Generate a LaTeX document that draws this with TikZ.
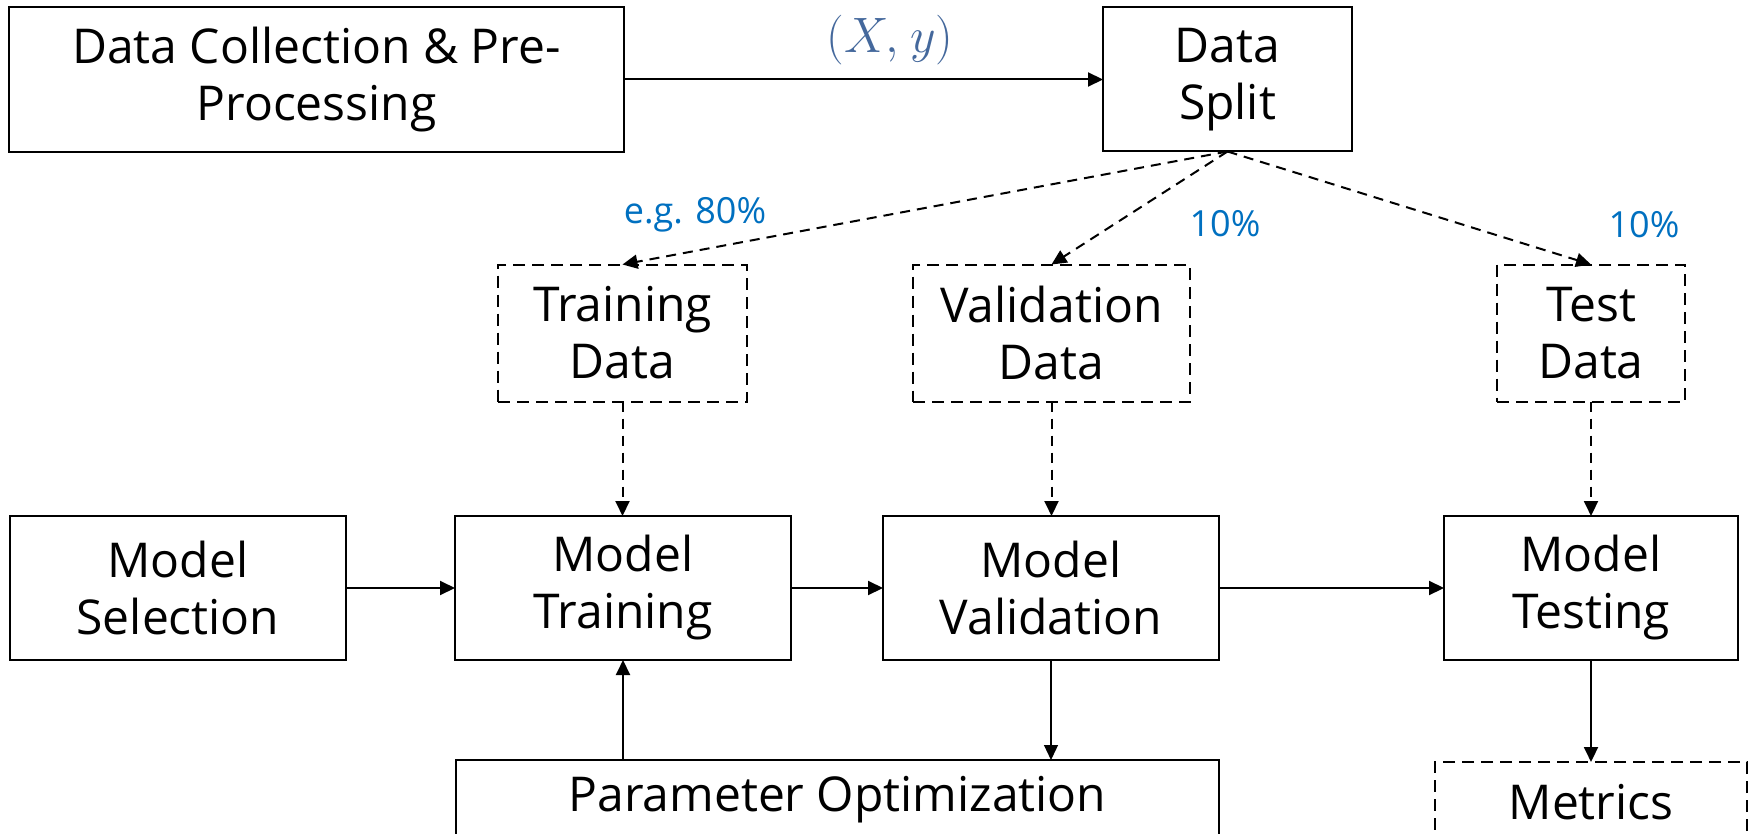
\documentclass[tikz,border=0pt]{standalone}
\usepackage{fontspec}
\setmainfont{Open Sans}
\usetikzlibrary{arrows.meta}
\definecolor{pctblue}{HTML}{0070C0}
\definecolor{mathblue}{HTML}{44689C}
\tikzset{
  box/.style={draw, line width=1pt, inner sep=0pt, outer sep=0pt, align=center,
    font=\fontsize{24}{28.5}\selectfont},
  dbox/.style={box, dash pattern=on 6pt off 3.5pt},
  arr/.style={line width=1pt, -{Triangle[length=7.5pt,width=7pt]}},
  darr/.style={arr, dash pattern=on 5pt off 3.5pt},
  pct/.style={text=pctblue, font=\fontsize{18}{22}\selectfont, inner sep=0pt, anchor=base},
}
\begin{document}
\begin{tikzpicture}[x=0.5pt, y=-0.5pt]
\clip (0,0) rectangle (1754,834);
\fill[white] (0,0) rectangle (1754,834);

% top row
\node[box, minimum width=307.5pt, minimum height=72.5pt] (dcp) at (316.5,79.5) {Data Collection \& Pre-\\Processing};
\node[box, minimum width=124.5pt, minimum height=72pt] (split) at (1227.5,79.5) {Data\\Split};

% data subsets
\node[dbox, minimum width=124.5pt, minimum height=68.5pt] (trd) at (622.5,333) {Training\\Data};
\node[dbox, minimum width=138.5pt, minimum height=68.5pt] (vad) at (1051.5,333) {Validation\\Data};
\node[dbox, minimum width=94pt, minimum height=68.5pt] (ted) at (1591,333) {Test\\Data};

% model stages
\node[box, minimum width=168pt, minimum height=72pt] (msel) at (178,588) {Model\\Selection};
\node[box, minimum width=168pt, minimum height=72pt] (mtr) at (623,588) {Model\\Training};
\node[box, minimum width=168pt, minimum height=72pt] (mval) at (1051,588) {Model\\Validation};
\node[box, minimum width=147pt, minimum height=72pt] (mtest) at (1591,588) {Model\\Testing};

% bottom row
\node[box, minimum width=381.5pt, minimum height=40pt] (popt) at (837.5,800) {Parameter Optimization};
\node[dbox, minimum width=156pt, minimum height=40pt] (metrics) at (1591,802) {Metrics};

% labels
\node[text=mathblue, font=\fontsize{23.5}{27}\selectfont, inner sep=0pt, anchor=base] (xy) at (890,53) {$(X,\mkern1mu y)$};
\node[pct] (p80) at (695,223) {e.g. 80\%};
\node[pct] (p10a) at (1225,236) {10\%};
\node[pct] (p10b) at (1644,237) {10\%};

% connectors
\draw[arr] (dcp.east) -- (dcp.east -| split.west);
\draw[darr] (split.south) -- (trd.north);
\draw[darr] (split.south) -- (vad.north);
\draw[darr] (split.south) -- (ted.north);
\draw[darr] (trd.south) -- (trd.south |- mtr.north);
\draw[darr] (vad.south) -- (vad.south |- mval.north);
\draw[darr] (ted.south) -- (mtest.north);
\draw[arr] (msel.east) -- (mtr.west);
\draw[arr] (mtr.east) -- (mval.west);
\draw[arr] (mval.east) -- (mtest.west);
\draw[arr] (popt.north -| mtr.south) -- (mtr.south);
\draw[arr, line width=0.6pt] (mval.south) -- (mval.south |- popt.north);
\draw[arr] (mtest.south) -- (metrics.north);
\end{tikzpicture}
\end{document}
